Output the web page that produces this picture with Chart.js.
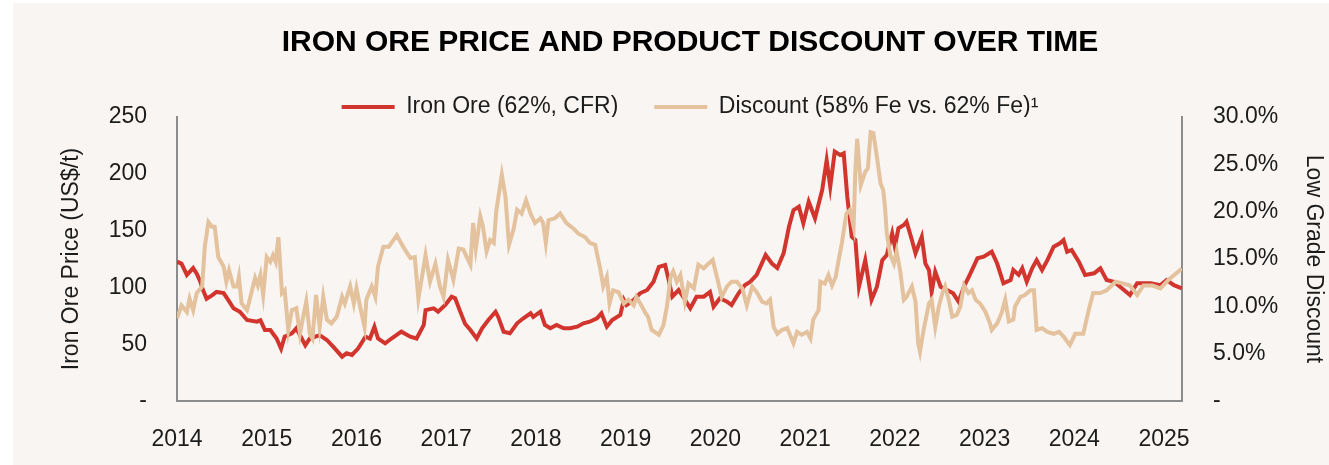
<!DOCTYPE html>
<html>
<head>
<meta charset="utf-8">
<script src="https://cdn.jsdelivr.net/npm/chart.js@4/dist/chart.umd.min.js"></script>
<style>
  html, body { margin: 0; padding: 0; background: #ffffff; width: 1329px; height: 465px; overflow: hidden; }
  #wrap { position: absolute; left: 13px; top: 3px; width: 1316px; height: 462px; background: #f8f5f2; }
  canvas { display: block; }
</style>
</head>
<body>
<div id="wrap"><canvas id="c"></canvas></div>
<script>
// ---- DATA ----
const chartTitle = "IRON ORE PRICE AND PRODUCT DISCOUNT OVER TIME";
const ironLabel = "Iron Ore (62%, CFR)";
const discLabel = "Discount (58% Fe vs. 62% Fe)\u00B9";
const xTickYears = [2014, 2015, 2016, 2017, 2018, 2019, 2020, 2021, 2022, 2023, 2024, 2025];
const leftTicks = [0, 50, 100, 150, 200, 250];
const rightTicks = [0, 5, 10, 15, 20, 25, 30];

const ironYears = [
  2014.00, 2014.05, 2014.11, 2014.18, 2014.22, 2014.26, 2014.29, 2014.33, 2014.39, 2014.44,
  2014.52, 2014.57, 2014.63, 2014.70, 2014.78, 2014.89, 2014.93, 2014.98, 2015.04, 2015.11,
  2015.16, 2015.20, 2015.28, 2015.33, 2015.39, 2015.43, 2015.48, 2015.59, 2015.67, 2015.74,
  2015.84, 2015.89, 2015.95, 2016.02, 2016.10, 2016.15, 2016.20, 2016.24, 2016.32, 2016.39,
  2016.50, 2016.60, 2016.67, 2016.75, 2016.77, 2016.86, 2016.91, 2016.99, 2017.06, 2017.10,
  2017.15, 2017.21, 2017.27, 2017.34, 2017.40, 2017.47, 2017.55, 2017.58, 2017.64, 2017.71,
  2017.79, 2017.86, 2017.94, 2017.97, 2018.05, 2018.10, 2018.16, 2018.23, 2018.31, 2018.38,
  2018.46, 2018.53, 2018.60, 2018.68, 2018.73, 2018.79, 2018.85, 2018.94, 2018.98, 2019.01,
  2019.09, 2019.16, 2019.24, 2019.31, 2019.37, 2019.44, 2019.48, 2019.52, 2019.59, 2019.64,
  2019.72, 2019.79, 2019.87, 2019.94, 2019.98, 2020.05, 2020.13, 2020.18, 2020.26, 2020.33,
  2020.39, 2020.46, 2020.56, 2020.63, 2020.69, 2020.76, 2020.82, 2020.87, 2020.93, 2020.98,
  2021.04, 2021.11, 2021.19, 2021.24, 2021.28, 2021.33, 2021.39, 2021.43, 2021.47, 2021.52,
  2021.56, 2021.60, 2021.67, 2021.74, 2021.80, 2021.86, 2021.91, 2021.97, 2022.00, 2022.04,
  2022.10, 2022.13, 2022.19, 2022.23, 2022.30, 2022.34, 2022.38, 2022.41, 2022.45, 2022.51,
  2022.58, 2022.65, 2022.71, 2022.77, 2022.84, 2022.92, 2022.99, 2023.08, 2023.14, 2023.21,
  2023.29, 2023.32, 2023.38, 2023.42, 2023.47, 2023.53, 2023.58, 2023.64, 2023.70, 2023.77,
  2023.84, 2023.88, 2023.92, 2023.97, 2024.05, 2024.12, 2024.22, 2024.29, 2024.36, 2024.44,
  2024.51, 2024.62, 2024.70, 2024.85, 2024.96, 2025.03, 2025.11, 2025.20
];
const ironPrice = [
  122.6, 121, 111, 117, 112, 105, 97.7, 90, 93, 96,
  95, 89, 81.6, 78.6, 71.3, 69.8, 71, 62.5, 62.5, 55,
  46, 56.6, 59.6, 64, 55, 49, 55, 58, 53.7, 47.8,
  39, 42, 40.5, 46.4, 56.6, 55, 65.4, 55, 50.8, 55,
  61, 56.6, 55, 67, 80, 81.6, 78.6, 84.5, 91.8, 90.4,
  80, 68, 62.5, 55, 64, 71.3, 78.6, 74, 61, 59.6,
  68.4, 72.8, 77.2, 74, 78.6, 67, 64, 67, 64, 64,
  65.4, 68.4, 69.8, 72.8, 77.2, 65.4, 71.3, 75.7, 89, 84.5,
  89, 94.8, 97.7, 105, 118, 119.7, 106.5, 91.8, 97.7, 91.8,
  81.6, 91.8, 91.8, 96, 83, 90.4, 87.4, 84.5, 95, 102,
  105, 111, 128.5, 121, 117, 130, 153.4, 168, 171, 156.4,
  175.4, 160.8, 185.7, 212, 188.6, 219.5, 216.5, 218, 179.8, 144.6,
  141.7, 100.6, 124, 89, 100.6, 124, 128.5, 147.6, 135.8, 152,
  155, 157.8, 141.7, 130, 144.6, 121, 115.3, 96, 113.8, 100.6,
  97.7, 94.8, 87.4, 100.6, 112, 125.6, 127, 131.4, 121, 103.6,
  106.5, 115.3, 111, 116.8, 105, 116.8, 124, 115.3, 124, 135.8,
  138.8, 141.7, 131.4, 133, 122.6, 111, 112.4, 116.8, 106.5, 105,
  100.6, 93.3, 103.6, 103.6, 102, 106.5, 102, 99.2
];

const discYears = [
  2014.00, 2014.05, 2014.11, 2014.14, 2014.18, 2014.22, 2014.28, 2014.31, 2014.35, 2014.39,
  2014.42, 2014.46, 2014.52, 2014.55, 2014.58, 2014.63, 2014.67, 2014.69, 2014.72, 2014.78,
  2014.81, 2014.87, 2014.90, 2014.93, 2014.96, 2015.00, 2015.04, 2015.07, 2015.10, 2015.13,
  2015.17, 2015.20, 2015.24, 2015.28, 2015.33, 2015.37, 2015.40, 2015.44, 2015.48, 2015.51,
  2015.55, 2015.59, 2015.63, 2015.67, 2015.72, 2015.78, 2015.84, 2015.87, 2015.93, 2015.97,
  2016.00, 2016.04, 2016.09, 2016.11, 2016.17, 2016.21, 2016.24, 2016.30, 2016.36, 2016.39,
  2016.45, 2016.52, 2016.60, 2016.65, 2016.69, 2016.77, 2016.82, 2016.88, 2016.93, 2016.97,
  2017.02, 2017.08, 2017.14, 2017.19, 2017.27, 2017.30, 2017.33, 2017.38, 2017.41, 2017.45,
  2017.49, 2017.53, 2017.56, 2017.62, 2017.66, 2017.70, 2017.75, 2017.79, 2017.84, 2017.89,
  2017.94, 2017.99, 2018.05, 2018.08, 2018.11, 2018.14, 2018.21, 2018.27, 2018.34, 2018.42,
  2018.47, 2018.55, 2018.60, 2018.66, 2018.72, 2018.75, 2018.79, 2018.82, 2018.86, 2018.92,
  2018.98, 2019.03, 2019.09, 2019.12, 2019.18, 2019.22, 2019.25, 2019.29, 2019.37, 2019.42,
  2019.46, 2019.50, 2019.53, 2019.57, 2019.61, 2019.66, 2019.70, 2019.76, 2019.81, 2019.87,
  2019.91, 2019.97, 2020.02, 2020.07, 2020.13, 2020.18, 2020.24, 2020.30, 2020.35, 2020.41,
  2020.46, 2020.52, 2020.57, 2020.61, 2020.65, 2020.69, 2020.74, 2020.80, 2020.87, 2020.91,
  2020.96, 2021.02, 2021.06, 2021.09, 2021.15, 2021.17, 2021.22, 2021.26, 2021.30, 2021.34,
  2021.37, 2021.41, 2021.46, 2021.50, 2021.54, 2021.56, 2021.58, 2021.62, 2021.67, 2021.70,
  2021.73, 2021.76, 2021.80, 2021.84, 2021.87, 2021.89, 2021.91, 2021.95, 2021.99, 2022.02,
  2022.06, 2022.10, 2022.13, 2022.19, 2022.23, 2022.26, 2022.28, 2022.32, 2022.38, 2022.41,
  2022.45, 2022.49, 2022.53, 2022.56, 2022.60, 2022.64, 2022.69, 2022.73, 2022.77, 2022.82,
  2022.86, 2022.90, 2022.95, 2023.01, 2023.06, 2023.08, 2023.14, 2023.19, 2023.23, 2023.27,
  2023.32, 2023.34, 2023.40, 2023.45, 2023.51, 2023.55, 2023.58, 2023.64, 2023.70, 2023.77,
  2023.83, 2023.88, 2023.95, 2024.01, 2024.10, 2024.16, 2024.21, 2024.29, 2024.36, 2024.46,
  2024.55, 2024.62, 2024.70, 2024.77, 2024.87, 2024.96, 2025.05, 2025.20
];
const discPct = [
  8.7, 10.1, 9.4, 10.8, 9.6, 11.4, 12.1, 16.3, 18.9, 18.4,
  18.4, 15.2, 14.2, 12.6, 13.8, 12.1, 12.1, 13.1, 10.3, 9.6,
  10.7, 13.0, 12.2, 13.3, 11.2, 15.2, 14.7, 15.4, 14.7, 17.3,
  11.4, 11.7, 7.5, 9.6, 9.8, 7.1, 8.6, 10.5, 7.1, 6.6,
  11.2, 7.8, 11.0, 8.6, 8.2, 8.9, 11.0, 10.3, 12.1, 10.3,
  11.9, 10.0, 7.8, 10.7, 12.1, 11.0, 14.2, 16.3, 16.3, 16.7,
  17.5, 16.3, 15.1, 15.2, 10.8, 15.4, 12.6, 14.5, 12.1, 11.0,
  14.9, 12.8, 16.1, 16.0, 14.4, 18.8, 16.1, 19.5, 18.4, 15.8,
  17.0, 16.7, 20.2, 23.9, 21.6, 16.5, 18.1, 20.2, 19.8, 21.2,
  19.8, 18.8, 19.3, 18.8, 16.7, 19.1, 19.3, 19.8, 18.8, 18.2,
  17.7, 17.3, 16.7, 16.5, 13.8, 12.1, 13.1, 10.3, 11.7, 11.5,
  10.3, 10.7, 10.1, 11.0, 10.0, 9.3, 8.9, 7.5, 7.0, 8.0,
  10.0, 13.1, 13.7, 12.6, 13.3, 10.5, 12.4, 11.9, 14.4, 14.0,
  14.4, 14.9, 13.0, 11.0, 12.1, 12.6, 12.6, 11.9, 10.1, 12.1,
  11.5, 10.5, 10.3, 10.7, 7.8, 7.1, 7.5, 7.7, 6.1, 7.3,
  7.0, 7.3, 6.6, 8.6, 9.6, 12.6, 12.4, 13.3, 12.2, 13.1,
  14.7, 16.7, 19.8, 20.2, 18.4, 24.4, 27.7, 22.8, 24.2, 24.6,
  28.4, 28.3, 25.8, 23.0, 22.3, 20.5, 17.7, 15.4, 14.5, 15.8,
  13.7, 10.7, 11.0, 12.1, 10.5, 6.1, 5.2, 7.5, 10.3, 10.7,
  7.8, 10.0, 11.4, 12.1, 10.7, 8.9, 9.1, 10.0, 12.2, 11.4,
  11.7, 10.7, 10.3, 9.4, 8.2, 7.5, 8.2, 9.3, 10.7, 8.4,
  8.6, 10.0, 11.0, 11.2, 11.7, 11.7, 7.5, 7.7, 7.3, 7.1,
  7.3, 6.8, 5.9, 7.1, 7.1, 9.6, 11.4, 11.4, 11.7, 12.6,
  12.4, 12.2, 11.2, 12.2, 12.2, 11.9, 12.8, 14.0
];

// ---- STYLE ----
const FONT = "'Liberation Sans', Arial, sans-serif";
const TEXT = '#1c1c1c';
const AXIS = '#8c8c8c';
const RED = '#d2352d';
const TAN = '#e3c29d';

const ironData = ironYears.map((x, i) => ({ x: x, y: ironPrice[i] }));
const discData = discYears.map((x, i) => ({ x: x, y: discPct[i] }));

new Chart(document.getElementById('c'), {
  type: 'line',
  data: {
    datasets: [
      { label: ironLabel, data: ironData, yAxisID: 'y', order: 1, borderColor: RED, backgroundColor: RED,
        borderWidth: 4, pointRadius: 0, tension: 0, fill: false },
      { label: discLabel, data: discData, yAxisID: 'y1', order: 0, borderColor: TAN, backgroundColor: TAN,
        borderWidth: 4, pointRadius: 0, tension: 0, fill: false }
    ]
  },
  options: {
    responsive: true,
    maintainAspectRatio: false,
    animation: false,
    layout: { padding: { left: 38, right: 0, top: 0, bottom: 0 } },
    plugins: {
      tooltip: { enabled: false },
      title: {
        display: true, text: chartTitle, color: '#000',
        font: { family: FONT, size: 30, weight: 'bold', lineHeight: 1.0 },
        padding: { top: 25, bottom: 1.5 }
      },
      legend: {
        display: true, position: 'top', align: 'center', maxHeight: 57.5,
        labels: {
          color: TEXT, font: { family: FONT, size: 23 },
          usePointStyle: true, pointStyle: 'line', pointStyleWidth: 53,
          padding: 36,
          sort: (a, b) => a.datasetIndex - b.datasetIndex
        }
      }
    },
    scales: {
      x: {
        type: 'linear', min: 2014, max: 2025.2,
        afterFit: s => { s.height = 64; },
        afterBuildTicks: s => { s.ticks = xTickYears.map(v => ({ value: v })); },
        grid: { display: false },
        border: { display: true, color: AXIS, width: 2 },
        ticks: { autoSkip: false, maxRotation: 0, includeBounds: false, padding: 17,
                 color: TEXT, font: { family: FONT, size: 23 },
                 callback: v => String(v) }
      },
      y: {
        position: 'left', min: 0, max: 250,
        afterFit: s => { s.width = 126; },
        afterBuildTicks: s => { s.ticks = leftTicks.map(v => ({ value: v })); },
        grid: { display: false },
        border: { display: true, color: AXIS, width: 2 },
        ticks: { padding: 22, color: TEXT, font: { family: FONT, size: 23 },
                 callback: v => (v === 0 ? '-' : String(v)) },
        title: { display: true, text: 'Iron Ore Price (US$/t)', color: TEXT,
                 font: { family: FONT, size: 23 }, padding: { top: 7, bottom: 0 } }
      },
      y1: {
        position: 'right', min: 0, max: 30,
        afterFit: s => { s.width = 147; },
        afterBuildTicks: s => { s.ticks = rightTicks.map(v => ({ value: v })); },
        grid: { display: false, drawOnChartArea: false },
        border: { display: true, color: AXIS, width: 2 },
        ticks: { padding: 23, color: TEXT, font: { family: FONT, size: 23 },
                 callback: v => (v === 0 ? '-' : v.toFixed(1) + '%') },
        title: { display: true, text: 'Low Grade Discount', color: TEXT,
                 font: { family: FONT, size: 23 }, padding: { top: 2, bottom: 0 } }
      }
    }
  }
});
</script>
</body>
</html>
